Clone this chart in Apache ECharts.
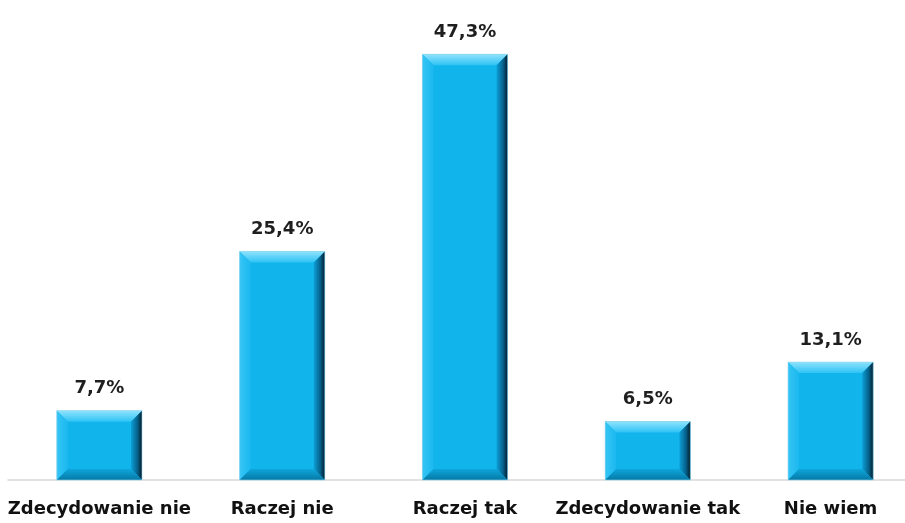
<!DOCTYPE html>
<html>
<head>
<meta charset="utf-8">
<script src="https://cdn.jsdelivr.net/npm/echarts@6/dist/echarts.min.js"></script>
<style>
  html, body { margin: 0; padding: 0; background: #fff; }
  #chart { width: 905px; height: 523px; }
</style>
</head>
<body>
<div id="chart"></div>
<script>
// odpowiedzi i odsetki
const categories = ['Zdecydowanie nie', 'Raczej nie', 'Raczej tak', 'Zdecydowanie tak', 'Nie wiem'];
const values = [7.7, 25.4, 47.3, 6.5, 13.1];

const chart = echarts.init(document.getElementById('chart'));

// bar with a bevelled frame, like the office "bevel" effect
function renderBevelBar(params, api) {
    const top = api.coord([api.value(0), api.value(1)]);
    const base = api.coord([api.value(0), 0]);
    const w = api.size([1, 0])[0] * 0.466;
    const x0 = top[0] - w / 2, x1 = top[0] + w / 2;
    const y0 = top[1], y1 = base[1];
    const b = 11;
    const txt = api.value(1).toFixed(1).replace('.', ',') + '%';
    return {
        type: 'group',
        children: [
            { type: 'rect', shape: { x: x0, y: y0, width: w, height: y1 - y0 },
              style: { fill: '#12b4ec' } },
            // top
            { type: 'polygon', shape: { points: [[x0, y0], [x1, y0], [x1 - b, y0 + b], [x0 + b, y0 + b]] },
              style: { fill: new echarts.graphic.LinearGradient(0, 0, 0, 1, [
                  { offset: 0, color: '#8fe2fc' }, { offset: 1, color: '#2ec3f5' }]) } },
            // left
            { type: 'polygon', shape: { points: [[x0, y0], [x0 + b, y0 + b], [x0 + b, y1 - b], [x0, y1]] },
              style: { fill: new echarts.graphic.LinearGradient(0, 0, 1, 0, [
                  { offset: 0, color: '#36c5f5' }, { offset: 1, color: '#1bb8ef' }]) } },
            // right
            { type: 'polygon', shape: { points: [[x1, y0], [x1, y1], [x1 - b, y1 - b], [x1 - b, y0 + b]] },
              style: { fill: new echarts.graphic.LinearGradient(0, 0, 1, 0, [
                  { offset: 0, color: '#0c9fd6' }, { offset: 0.6, color: '#06608a' }, { offset: 1, color: '#011c2a' }]) } },
            // bottom
            { type: 'polygon', shape: { points: [[x0, y1], [x0 + b, y1 - b], [x1 - b, y1 - b], [x1, y1]] },
              style: { fill: new echarts.graphic.LinearGradient(0, 0, 0, 1, [
                  { offset: 0, color: '#0ea6dc' }, { offset: 1, color: '#0679a6' }]) } },
            { type: 'rect', shape: { x: x0, y: y0, width: w, height: y1 - y0 },
              style: { fill: null, stroke: 'rgba(150,215,240,0.6)', lineWidth: 1 } },
            { type: 'text', x: top[0], y: y0 - 22,
              style: { text: txt, align: 'center', verticalAlign: 'middle',
                       font: 'bold 18px "DejaVu Sans", sans-serif', fill: '#1f1f1f' } }
        ]
    };
}

chart.setOption({
    animation: false,
    grid: { left: 8, width: 914, top: 30, bottom: 43, outerBoundsMode: 'none' },
    xAxis: {
        type: 'category',
        data: categories,
        axisLine: { lineStyle: { color: '#d9d9d9', width: 1.5 } },
        axisTick: { show: false },
        axisLabel: {
            interval: 0, margin: 20,
            color: '#111', fontWeight: 'bold', fontSize: 18,
            fontFamily: '"DejaVu Sans", sans-serif'
        }
    },
    yAxis: {
        type: 'value', min: 0, max: 50,
        show: false,
        splitLine: { show: false }
    },
    series: [{
        type: 'custom',
        renderItem: renderBevelBar,
        encode: { x: 0, y: 1 },
        data: values.map((v, i) => [i, v])
    }]
});
</script>
</body>
</html>
